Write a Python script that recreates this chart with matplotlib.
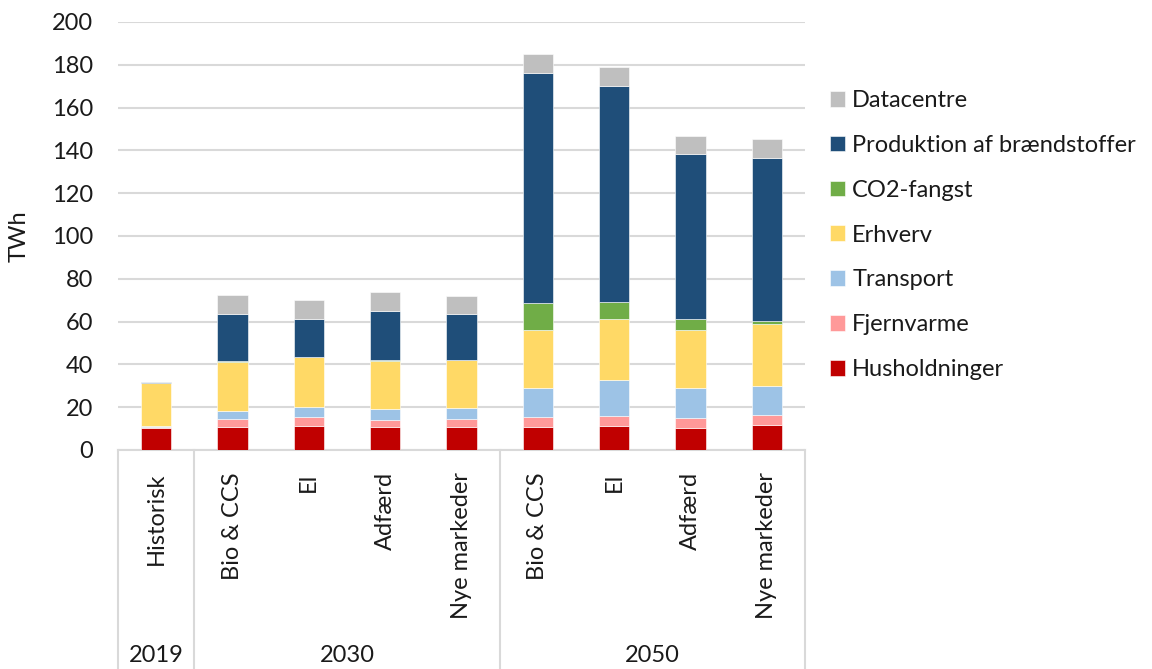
import numpy as np
import matplotlib.pyplot as plt

plt.rcParams['font.family'] = ['Lato', 'DejaVu Sans']

# Scenarios and years
scenarios = ['Historisk', 'Bio & CCS', 'El', 'Adfærd', 'Nye markeder',
             'Bio & CCS', 'El', 'Adfærd', 'Nye markeder']
years = ['2019', '2030', '2050']
year_spans = [(0, 1), (1, 5), (5, 9)]

# Electricity demand by sector (TWh)
husholdninger = [10.5, 10.6, 11.3, 10.7, 10.7, 10.6, 11.1, 10.1, 11.5]
fjernvarme = [0.3, 4.1, 4.1, 3.4, 3.7, 4.7, 4.7, 4.9, 4.7]
transport = [0.2, 3.5, 4.8, 4.9, 5.0, 13.6, 16.8, 13.9, 13.9]
erhverv = [20.3, 22.9, 23.1, 22.7, 22.5, 27.4, 28.5, 27.2, 28.6]
co2_fangst = [0.0, 0.6, 0.3, 0.5, 0.3, 12.3, 8.1, 5.1, 1.4]
produktion = [0.3, 22.0, 17.7, 22.9, 21.5, 107.5, 101.1, 76.9, 76.3]
datacentre = [0.4, 8.8, 8.8, 8.6, 8.4, 8.8, 8.8, 8.8, 8.7]

series = [
    ('Husholdninger', husholdninger, '#C00000'),
    ('Fjernvarme', fjernvarme, '#FF9999'),
    ('Transport', transport, '#9DC3E6'),
    ('Erhverv', erhverv, '#FFD966'),
    ('CO2-fangst', co2_fangst, '#70AD47'),
    ('Produktion af brændstoffer', produktion, '#1F4E79'),
    ('Datacentre', datacentre, '#BFBFBF'),
]

FS = 17
TXT = '#1a1a1a'

W, H = 1152, 669
fig = plt.figure(figsize=(W / 100, H / 100), dpi=100)
x0, x1, y0, y1 = 118, 805, 450, 22
ax = fig.add_axes([x0 / W, (H - y0) / H, (x1 - x0) / W, (y0 - y1) / H])

x = np.arange(len(scenarios))
bottom = np.zeros(len(scenarios))
handles = []
for name, vals, color in series:
    b = ax.bar(x, vals, width=0.4, bottom=bottom, color=color, label=name,
               edgecolor='white', linewidth=0.4, zorder=3)
    handles.append(b)
    bottom += np.array(vals)

ax.set_xlim(-0.5, len(scenarios) - 0.5)
ax.set_ylim(0, 200)
ax.set_yticks(np.arange(0, 201, 20))
ax.tick_params(axis='y', length=0, labelsize=FS, pad=18, colors=TXT)
ax.set_xticks([])
ax.grid(axis='y', color='#D9D9D9', linewidth=1.5, zorder=0)
for s in ax.spines.values():
    s.set_visible(False)
ax.set_ylabel('TWh', fontsize=FS, color=TXT)
ax.yaxis.set_label_coords(-0.128, 0.5)

# Category axis: rotated scenario labels and year groups in boxes
tr = ax.get_xaxis_transform()
box_bottom = -(H - y0) / (y0 - y1)
ax.plot([-0.5, len(scenarios) - 0.5], [0, 0], transform=tr, color='#D9D9D9',
        linewidth=1.5, clip_on=False, zorder=2)
for i, lab in enumerate(scenarios):
    ax.text(i, -0.052, lab, transform=tr, rotation=90, ha='center',
            va='top', fontsize=FS, color=TXT)
for yr, (a, b) in zip(years, year_spans):
    ax.text((a + b - 1) / 2, -0.48, yr, transform=tr, ha='center', va='center',
            fontsize=FS, color=TXT)
for edge in [0, 1, 5, 9]:
    ax.plot([edge - 0.5, edge - 0.5], [0, box_bottom], transform=tr,
            color='#D9D9D9', linewidth=1.5, clip_on=False)

fig.legend(handles[::-1], [s[0] for s in series][::-1],
           loc='upper left', bbox_to_anchor=(830 / W, (H - 90) / H),
           frameon=False, fontsize=FS, handlelength=0.64, handleheight=0.64,
           handletextpad=0.3, labelspacing=1.01, borderpad=0,
           borderaxespad=0, labelcolor=TXT)

fig.savefig('out.png', dpi=100)
